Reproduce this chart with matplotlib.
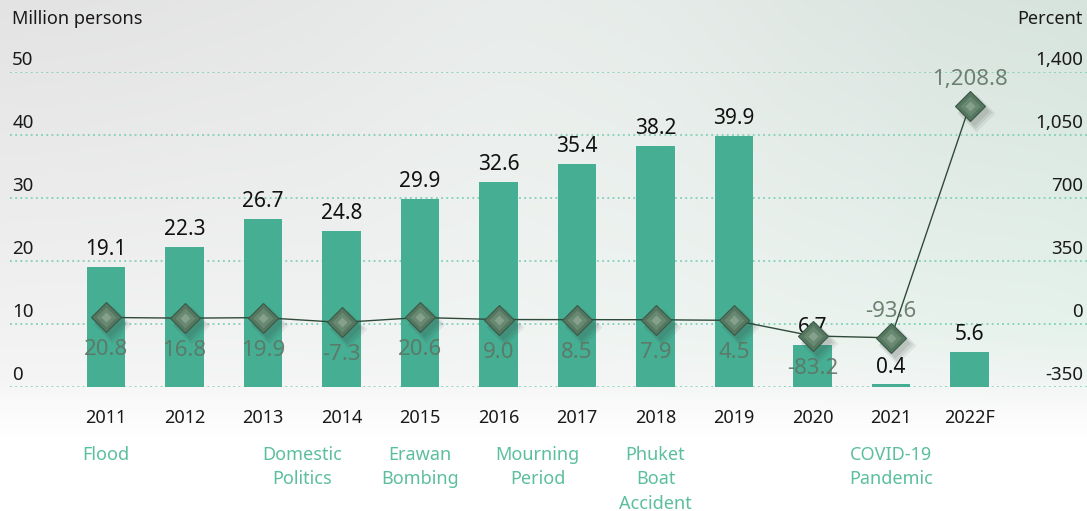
import numpy as np
import matplotlib.pyplot as plt
from matplotlib.transforms import blended_transform_factory, offset_copy

plt.rcParams["font.family"] = ["Noto Sans", "DejaVu Sans"]

YEARS = ["2011", "2012", "2013", "2014", "2015", "2016", "2017", "2018",
         "2019", "2020", "2021", "2022F"]
ARRIVALS = [19.1, 22.3, 26.7, 24.8, 29.9, 32.6, 35.4, 38.2, 39.9, 6.7, 0.4, 5.6]
GROWTH = [20.8, 16.8, 19.9, -7.3, 20.6, 9.0, 8.5, 7.9, 4.5, -83.2, -93.6, 1208.8]
GROWTH_TEXT = ["20.8", "16.8", "19.9", "-7.3", "20.6", "9.0", "8.5", "7.9",
               "4.5", "-83.2", "-93.6", "1,208.8"]
LEFT_TICKS = [0, 10, 20, 30, 40, 50]
RIGHT_TICKS = [-350, 0, 350, 700, 1050, 1400]
RIGHT_TEXT = ["-350", "0", "350", "700", "1,050", "1,400"]
EVENTS = [(0, "Flood"), (2.5, "Domestic\nPolitics"), (4, "Erawan\nBombing"),
          (5.5, "Mourning\nPeriod"), (7, "Phuket\nBoat\nAccident"),
          (10, "COVID-19\nPandemic")]

BAR = "#45ae93"
EVENT = "#5bbf9d"
GRID = "#6fcbb0"
PCT = "#5f7565"

W, H = 1087, 511
fig = plt.figure(figsize=(W / 100, H / 100), dpi=100)

# background gradient
bg = fig.add_axes([0, 0, 1, 1], zorder=-10)
yy, xx = np.mgrid[0:H, 0:W]
ty = np.clip(1 - yy / 400.0, 0, 1) ** 0.9
tx = xx / W
gray = 0.035 + 0.075 * ty * (1 - 0.5 * np.exp(-((xx - 560) / 300.0) ** 2))
gray = gray * np.clip(1 - (yy - 380) / 60.0, 0, 1)
green = 0.05 * tx ** 1.5 * np.clip(1 - (yy - 330) / 80.0, 0, 1)
img = np.ones((H, W, 3))
img[..., 0] -= gray + green
img[..., 1] -= gray
img[..., 2] -= gray + 0.5 * green
bg.imshow(np.clip(img, 0, 1), aspect="auto", interpolation="bilinear")
bg.axis("off")

x = np.arange(len(YEARS))
step = 78.5
x0 = -(106 - 10) / step
x1 = (1087 - 106) / step

ax = fig.add_axes([10 / W, (H - 387) / H, 1077 / W, 315 / H])
ax.patch.set_alpha(0)
ax.set_xlim(x0, x1)
ax.set_ylim(0, 50)
for s in ax.spines.values():
    s.set_visible(False)
ax.set_yticks([])
ax.set_xticks(x, YEARS, fontsize=13, color="#1a1a1a")
ax.tick_params(axis="x", length=0, pad=16)

for t in LEFT_TICKS:
    ax.axhline(t, color=GRID, lw=1.1, ls=(0, (1.2, 2.2)), zorder=1)

bars = ax.bar(x, ARRIVALS, width=0.485, color=BAR, zorder=2)
for xi, v in zip(x, ARRIVALS):
    ax.annotate(f"{v:.1f}", (xi, v), xytext=(0, 5), textcoords="offset points",
                ha="center", va="bottom", fontsize=15, color="#111111", zorder=6)

lt = blended_transform_factory(ax.transAxes, ax.transData)
for t in LEFT_TICKS:
    ax.annotate(str(t), (0.002, t), xycoords=lt, xytext=(0, 2),
                textcoords="offset points", ha="left", va="bottom",
                fontsize=13.5, color="#1a1a1a")
for t, s in zip(RIGHT_TICKS, RIGHT_TEXT):
    ax.annotate(s, (0.9963, t / 35 + 10), xycoords=lt, xytext=(0, 2),
                textcoords="offset points", ha="right", va="bottom",
                fontsize=13.5, color="#1a1a1a")

fig.text(12 / W, 1 - 19 / H, "Million persons", ha="left", va="center",
         fontsize=13, color="#1a1a1a")
fig.text(1083 / W, 1 - 19 / H, "Percent", ha="right", va="center",
         fontsize=13, color="#1a1a1a")

et = blended_transform_factory(ax.transData, fig.transFigure)
for xe, label in EVENTS:
    ax.text(xe, 1 - 446 / H, label, transform=et, ha="center", va="top",
            fontsize=13, color=EVENT, linespacing=1.45)

# growth line on the percent axis
ax2 = ax.twinx()
ax2.patch.set_alpha(0)
ax2.set_ylim(-370, 1400)
ax2.set_yticks([])
for s in ax2.spines.values():
    s.set_visible(False)

ax2.plot(x, GROWTH, color="#2f4a3a", lw=1.0, zorder=3)
for k, (dx, dy, a) in enumerate([(4, -5, 0.10), (5, -6, 0.10), (6, -7, 0.08)]):
    sh = offset_copy(ax2.transData, fig=fig, x=dx, y=dy, units="dots")
    ax2.plot(x, GROWTH, ls="none", marker="D", ms=15 + 2 * k, mfc="#3a3f3c",
             mec="none", alpha=a, transform=sh, zorder=3)
ax2.plot(x, GROWTH, ls="none", marker="D", ms=15, mfc="#557760",
         mec="#3b5846", mew=0.8, zorder=4)
ax2.plot(x, GROWTH, ls="none", marker="D", ms=10, mfc="#7b9a82",
         mec="none", alpha=0.5, zorder=5)
ax2.plot(x, GROWTH, ls="none", marker="D", ms=5, mfc="#a3bba6",
         mec="none", alpha=0.5, zorder=5)

for xi, v, s in zip(x, GROWTH, GROWTH_TEXT):
    if v < -90 or v > 1000:
        off, va = 16, "bottom"
    else:
        off, va = -22, "top"
    ax2.annotate(s, (xi, v), xytext=(0, off * 0.72), textcoords="offset points",
                 ha="center", va=va, fontsize=16, color=PCT, alpha=0.9, zorder=6)

fig.savefig("out.png", dpi=100)
